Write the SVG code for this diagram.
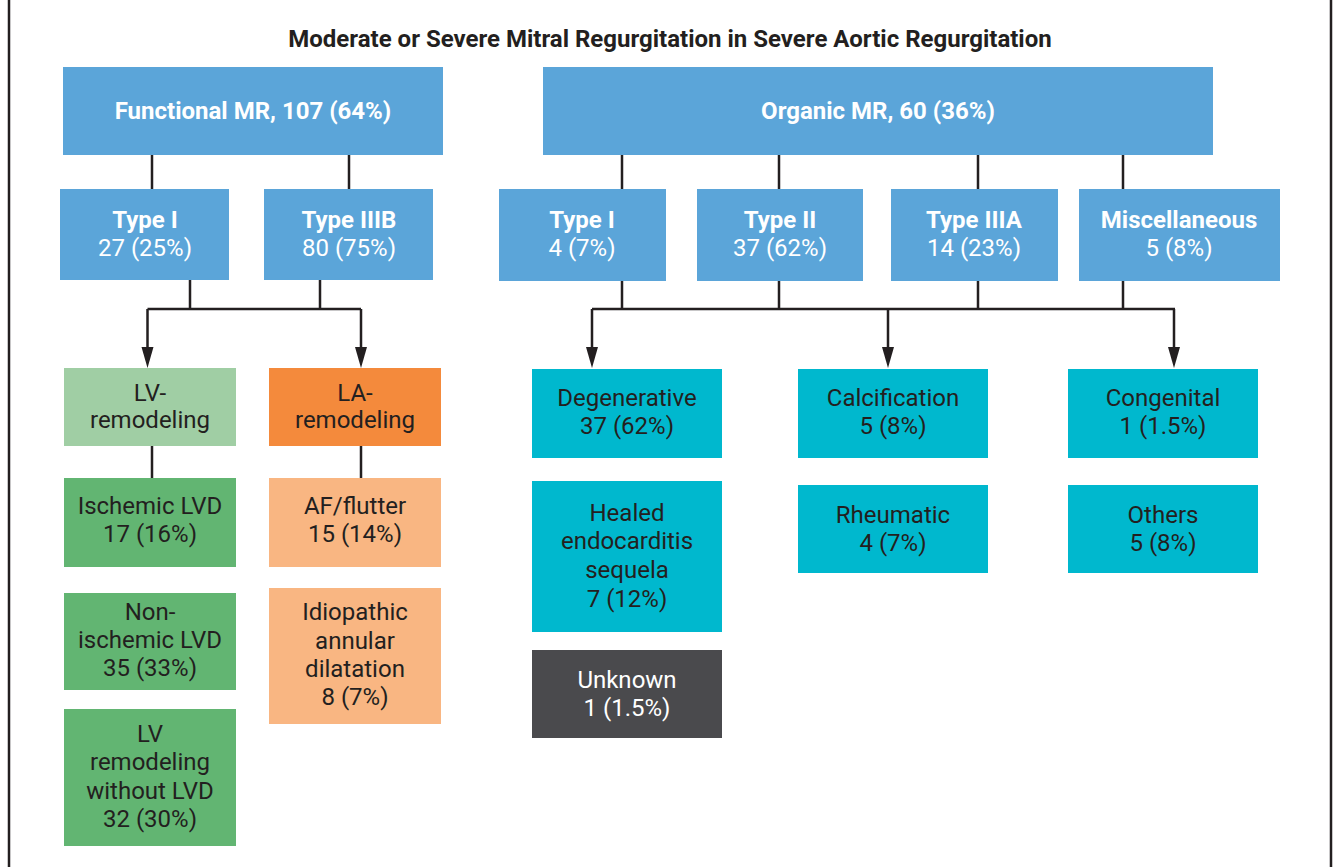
<svg xmlns="http://www.w3.org/2000/svg" width="1336" height="867" viewBox="0 0 1336 867">
<style>
.t{font-family:Roboto,"Liberation Sans",sans-serif;font-size:24px;text-anchor:middle}
.w{fill:#ffffff;font-weight:bold}
.wr{fill:#ffffff}
.d{fill:#231F20}
.blue{fill:#5BA5D9}
.lg{fill:#A0CEA4}
.or{fill:#F48A3C}
.mg{fill:#62B572}
.lo{fill:#F9B682}
.teal{fill:#00B8CE}
.gray{fill:#4A4A4D}
.c{stroke:#231F20;stroke-width:2.5;fill:none}
</style>
<rect width="1336" height="867" fill="#ffffff"/>
<line x1="9" y1="0" x2="9" y2="867" stroke="#231F20" stroke-width="2.5"/>
<line x1="1331" y1="0" x2="1331" y2="867" stroke="#231F20" stroke-width="2.5"/>
<text class="t d" x="670" y="47" font-weight="bold" font-size="23">Moderate or Severe Mitral Regurgitation in Severe Aortic Regurgitation</text>

<g id="connectors">
<path class="c" d="M152 155V189M349 155V189M190 280V309M320 280V309M147.5 309H361M152 446V478M361 446V478"/>
<path class="c" d="M147.5 309V348M361 309V348"/>
<path class="c" d="M622 155V189M779 155V189M978 155V189M1123 155V189M622 280V309M779 280V309M978 280V309M1123 280V309M592 309H1175"/>
<path class="c" d="M592 309V348M888 309V348M1174 309V348"/>
<g fill="#231F20">
<polygon points="141.5,347 153.5,347 147.5,368"/>
<polygon points="355,347 367,347 361,368"/>
<polygon points="586,347 598,347 592,368"/>
<polygon points="882,347 894,347 888,368"/>
<polygon points="1168,347 1180,347 1174,368"/>
</g>
</g>

<g id="functional-mr"><rect class="blue" x="63" y="67" width="380" height="88"/><text class="t w" x="253" y="119">Functional MR, 107 (64%)</text></g>
<g id="organic-mr"><rect class="blue" x="543" y="67" width="670" height="88"/><text class="t w" x="878" y="119">Organic MR, 60 (36%)</text></g>

<g id="f-type1"><rect class="blue" x="60" y="189" width="169" height="91"/><text class="t w" x="145" y="228">Type I</text><text class="t wr" x="145" y="256">27 (25%)</text></g>
<g id="f-type3b"><rect class="blue" x="264" y="189" width="169" height="91"/><text class="t w" x="349" y="228">Type IIIB</text><text class="t wr" x="349" y="256">80 (75%)</text></g>

<g id="o-type1"><rect class="blue" x="499" y="189" width="167" height="92"/><text class="t w" x="582" y="228">Type I</text><text class="t wr" x="582" y="256">4 (7%)</text></g>
<g id="o-type2"><rect class="blue" x="697" y="189" width="166" height="92"/><text class="t w" x="780" y="228">Type II</text><text class="t wr" x="780" y="256">37 (62%)</text></g>
<g id="o-type3a"><rect class="blue" x="891" y="189" width="167" height="92"/><text class="t w" x="974" y="228">Type IIIA</text><text class="t wr" x="974" y="256">14 (23%)</text></g>
<g id="o-misc"><rect class="blue" x="1079" y="189" width="201" height="92"/><text class="t w" x="1179" y="228">Miscellaneous</text><text class="t wr" x="1179" y="256">5 (8%)</text></g>

<g id="lv-remodeling"><rect class="lg" x="64" y="368" width="172" height="78"/><text class="t d" x="150" y="401">LV-</text><text class="t d" x="150" y="428">remodeling</text></g>
<g id="la-remodeling"><rect class="or" x="269" y="368" width="172" height="78"/><text class="t d" x="355" y="401">LA-</text><text class="t d" x="355" y="428">remodeling</text></g>

<g id="ischemic"><rect class="mg" x="64" y="478" width="172" height="89"/><text class="t d" x="150" y="514">Ischemic LVD</text><text class="t d" x="150" y="542">17 (16%)</text></g>
<g id="nonischemic"><rect class="mg" x="64" y="593" width="172" height="97"/><text class="t d" x="150" y="620">Non-</text><text class="t d" x="150" y="648">ischemic LVD</text><text class="t d" x="150" y="676">35 (33%)</text></g>
<g id="lv-without"><rect class="mg" x="64" y="709" width="172" height="137"/><text class="t d" x="150" y="742">LV</text><text class="t d" x="150" y="770">remodeling</text><text class="t d" x="150" y="799">without LVD</text><text class="t d" x="150" y="827">32 (30%)</text></g>

<g id="af"><rect class="lo" x="269" y="478" width="172" height="89"/><text class="t d" x="355" y="514">AF/flutter</text><text class="t d" x="355" y="542">15 (14%)</text></g>
<g id="idiopathic"><rect class="lo" x="269" y="588" width="172" height="136"/><text class="t d" x="355" y="620">Idiopathic</text><text class="t d" x="355" y="649">annular</text><text class="t d" x="355" y="677">dilatation</text><text class="t d" x="355" y="705">8 (7%)</text></g>

<g id="degenerative"><rect class="teal" x="532" y="369" width="190" height="89"/><text class="t d" x="627" y="406">Degenerative</text><text class="t d" x="627" y="434">37 (62%)</text></g>
<g id="calcification"><rect class="teal" x="798" y="369" width="190" height="89"/><text class="t d" x="893" y="406">Calcification</text><text class="t d" x="893" y="434">5 (8%)</text></g>
<g id="congenital"><rect class="teal" x="1068" y="369" width="190" height="89"/><text class="t d" x="1163" y="406">Congenital</text><text class="t d" x="1163" y="434">1 (1.5%)</text></g>

<g id="healed"><rect class="teal" x="532" y="481" width="190" height="151"/><text class="t d" x="627" y="521">Healed</text><text class="t d" x="627" y="549">endocarditis</text><text class="t d" x="627" y="578">sequela</text><text class="t d" x="627" y="607">7 (12%)</text></g>
<g id="rheumatic"><rect class="teal" x="798" y="485" width="190" height="88"/><text class="t d" x="893" y="523">Rheumatic</text><text class="t d" x="893" y="551">4 (7%)</text></g>
<g id="others"><rect class="teal" x="1068" y="485" width="190" height="88"/><text class="t d" x="1163" y="523">Others</text><text class="t d" x="1163" y="551">5 (8%)</text></g>

<g id="unknown"><rect class="gray" x="532" y="650" width="190" height="88"/><text class="t wr" x="627" y="688">Unknown</text><text class="t wr" x="627" y="716">1 (1.5%)</text></g>
</svg>
